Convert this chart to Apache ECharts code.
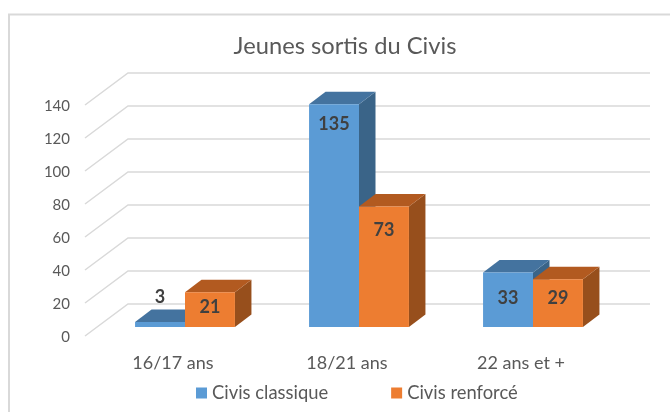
<!doctype html>
<html>
<head>
<meta charset="utf-8">
<title>Jeunes sortis du Civis</title>
<script src="https://cdn.jsdelivr.net/npm/echarts@6/dist/echarts.min.js"></script>
<style>
html,body{margin:0;padding:0;background:#fff}
#main{width:670px;height:412px}
</style>
</head>
<body>
<div id="main"></div>
<script>
var categories = ['16/17 ans', '18/21 ans', '22 ans et +'];
var classique = [3, 135, 33];
var renforce = [21, 73, 29];
var ticks = [0, 20, 40, 60, 80, 100, 120, 140];

// label offsets from the bar top, in px (Excel places them by hand)
var labelDyClassique = [-25, 20, 26];
var labelDyRenforce = [15, 24, 19];

var myChart = echarts.init(document.getElementById('main'));

// walls: bars stand 13px behind the front edge, back wall 30px further
function renderWall(params, api) {
    var y = api.coord([0, api.value(0)])[1];
    var r = params.coordSys;
    return {
        type: 'polyline',
        silent: true,
        shape: { points: [[r.x - 13, y + 9], [r.x + 30, y - 23], [r.x + r.width + 30, y - 23]] },
        style: { stroke: '#d9d9d9', lineWidth: 1.5, fill: null }
    };
}

function barRenderer(side, front, top, right, labelDy) {
    return function (params, api) {
        var i = api.value(0);
        var p = api.coord([i, api.value(1)]);
        var base = api.coord([i, 0])[1];
        var w = api.size([1, 0])[0] * 0.287;
        var x0 = side < 0 ? p[0] - w : p[0];
        var x1 = x0 + w;
        var dx = 16.5, dy = 12.5;
        return {
            type: 'group',
            children: [
                { type: 'polygon', shape: { points: [[x1, p[1]], [x1 + dx, p[1] - dy], [x1 + dx, base - dy], [x1, base]] }, style: { fill: right } },
                { type: 'polygon', shape: { points: [[x0, p[1]], [x0 + dx, p[1] - dy], [x1 + dx, p[1] - dy], [x1, p[1]]] }, style: { fill: top } },
                { type: 'rect', shape: { x: x0, y: p[1], width: w, height: base - p[1] }, style: { fill: front } },
                {
                    type: 'text',
                    style: {
                        x: (x0 + x1) / 2,
                        y: p[1] + labelDy[i],
                        text: String(api.value(1)),
                        fill: '#404040',
                        font: 'bold 18px Lato',
                        align: 'center',
                        verticalAlign: 'middle'
                    }
                }
            ]
        };
    };
}

var option = {
    animation: false,
    textStyle: { fontFamily: 'Lato' },
    title: {
        text: 'Jeunes sortis du Civis',
        left: 340,
        top: 29,
        textAlign: 'center',
        textStyle: { fontFamily: 'Lato', fontWeight: 'normal', fontSize: 23.7, color: '#595959' }
    },
    legend: {
        left: 191,
        top: 379,
        itemWidth: 11,
        itemHeight: 11,
        itemGap: 63,
        icon: 'rect',
        textStyle: { fontFamily: 'Lato', fontSize: 18.4, color: '#595959' },
        data: ['Civis classique', 'Civis renforcé']
    },
    graphic: [{
        type: 'rect',
        silent: true,
        shape: { x: 9, y: 14.5, width: 700, height: 420 },
        style: { fill: null, stroke: '#d9d9d9', lineWidth: 2 }
    }],
    grid: { left: 98, top: 96, width: 522, height: 231 },
    xAxis: {
        type: 'category',
        data: categories,
        axisLine: { show: false },
        axisTick: { show: false },
        axisLabel: { margin: 27, padding: [0, 24, 0, 0], fontFamily: 'Lato', fontSize: 18, color: '#595959' }
    },
    yAxis: {
        type: 'value',
        min: 0,
        max: 140,
        interval: 20,
        splitLine: { show: false },
        axisLine: { show: false },
        axisTick: { show: false },
        axisLabel: { margin: 28, verticalAlign: 'top', lineHeight: 20, fontFamily: 'Lato', fontSize: 15, color: '#595959' }
    },
    series: [
        {
            type: 'custom',
            name: 'walls',
            silent: true,
            renderItem: renderWall,
            data: ticks.map(function (t) { return [t]; }),
            encode: { y: 0 },
            z: 1
        },
        {
            type: 'custom',
            name: 'Civis classique',
            itemStyle: { color: '#5b9bd5' },
            renderItem: barRenderer(-1, '#5b9bd5', '#44739f', '#3a6488', labelDyClassique),
            data: classique.map(function (v, i) { return [i, v]; }),
            encode: { x: 0, y: 1 },
            z: 2
        },
        {
            type: 'custom',
            name: 'Civis renforcé',
            itemStyle: { color: '#ed7d31' },
            renderItem: barRenderer(1, '#ed7d31', '#b25a20', '#974f1c', labelDyRenforce),
            data: renforce.map(function (v, i) { return [i, v]; }),
            encode: { x: 0, y: 1 },
            z: 3
        }
    ]
};

myChart.setOption(option);
</script>
</body>
</html>
